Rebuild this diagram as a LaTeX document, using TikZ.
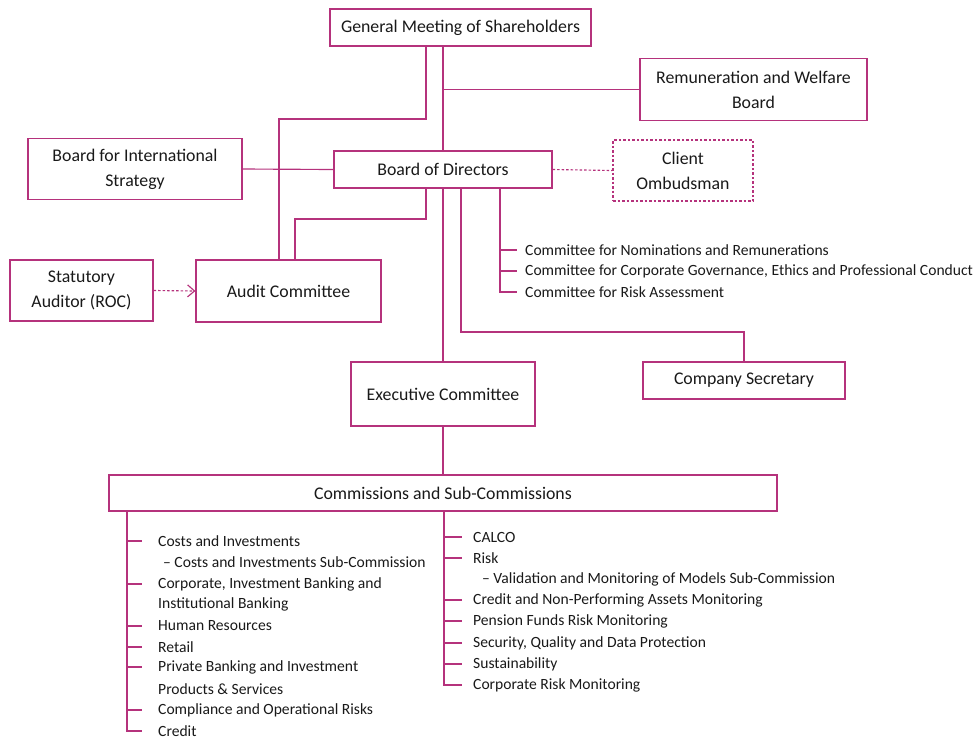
\documentclass[tikz,border=0pt]{standalone}
\usepackage{fontspec}
\setmainfont{Carlito}
\usetikzlibrary{arrows.meta,positioning}
\definecolor{omag}{HTML}{B5327C}
\newcommand{\oboxfont}{\fontsize{17.8}{25}\selectfont}
\newcommand{\olistfont}{\fontsize{15.6}{21}\selectfont}
\tikzset{
  >={Straight Barb[length=7pt,width=12pt]},
  oline/.style={draw=omag, line width=1.15pt},
  odash/.style={oline, dash pattern=on 2.5pt off 2pt},
  obox/.style={draw=omag, line width=1.15pt, align=center, inner sep=2pt,
               font=\oboxfont, text=black!90},
  oboxdash/.style={obox, dash pattern=on 2.5pt off 2pt},
  olbl/.style={anchor=west, inner sep=0pt, font=\olistfont, text=black!90},
}

\begin{document}
\begin{tikzpicture}[x=1pt,y=-1pt]
  \useasboundingbox (0,0) rectangle (975,740);

  % --- governing bodies ---
  \node[obox, minimum width=261pt, minimum height=37pt] (gm) at (460.5,27.5)
    {General Meeting of Shareholders};
  \node[obox, minimum width=227pt, minimum height=62pt] (remb) at (753.5,89.5)
    {Remuneration and Welfare\\Board};
  \node[obox, minimum width=214pt, minimum height=61pt] (bis) at (135,169)
    {Board for International\\Strategy};
  \node[obox, minimum width=218pt, minimum height=37pt] (bod) at (443,169.5)
    {Board of Directors};
  \node[oboxdash, minimum width=140pt, minimum height=61pt] (omb) at (683,170.5)
    {Client\\Ombudsman};
  \node[obox, minimum width=143pt, minimum height=61pt] (stat) at (81.5,290.5)
    {Statutory\\Auditor (ROC)};
  \node[obox, minimum width=185pt, minimum height=62pt] (audit) at (288.5,291)
    {Audit Committee};
  \node[obox, minimum width=184pt, minimum height=64pt] (exec) at (443,394)
    {Executive Committee};
  \node[obox, minimum width=202pt, minimum height=37pt] (csec) at (744,380.5)
    {Company Secretary};
  \node[obox, minimum width=668pt, minimum height=36pt] (comm) at (443,493)
    {Commissions and Sub-Commissions};

  % --- junctions ---
  \coordinate (spine) at (443,0);
  \coordinate (gmleft) at (426,0);
  \coordinate (gmturn) at (279,119);
  \coordinate (bodturn) at (295,219);
  \coordinate (secbus) at (461,0);
  \coordinate (secturn) at (744,332);
  \coordinate (cbus) at (500,0);
  \coordinate (ctick) at (517,0);
  \coordinate (lbus) at (127,0);
  \coordinate (ltick) at (142,0);
  \coordinate (rbus) at (444,0);
  \coordinate (rtick) at (462,0);

  % --- links between bodies ---
  \draw[oline] (gm.south -| gmleft) |- (gmturn) -- (audit.north -| gmturn);
  \draw[oline] (gm.south -| spine) -- (bod.north -| spine);
  \draw[oline] (remb.west) -- (remb.west -| spine);
  \draw[oline] (bis.east) -- (bod.west);
  \draw[odash] (bod.east) -- (omb.west);
  \draw[odash, ->] (stat.east) -- (audit.west);
  \draw[oline] (bod.south -| gmleft) |- (bodturn) -- (audit.north -| bodturn);
  \draw[oline] (bod.south -| spine) -- (exec.north);
  \draw[oline] (bod.south -| secbus) |- (secturn) -- (csec.north);
  \draw[oline] (exec.south) -- (comm.north);

  % --- board committees ---
  \foreach \n/\y/\t in {bc1/250/Committee for Nominations and Remunerations,
      bc2/271/{Committee for Corporate Governance, Ethics and Professional Conduct},
      bc3/292/Committee for Risk Assessment}
    \node[olbl] (\n) at (525,\y) {\t};
  \draw[oline] (bod.south -| cbus) |- (bc3.west -| ctick);
  \foreach \n in {bc1,bc2}
    \draw[oline] (\n.west -| cbus) -- (\n.west -| ctick);

  % --- commissions, left column ---
  \foreach \n/\x/\y/\t in {lc1/158/541/Costs and Investments,
      lc2/163/562/– Costs and Investments Sub-Commission,
      lc3/158/584/{Corporate, Investment Banking and},
      lc4/158/604/Institutional Banking,
      lc5/158/626/Human Resources,
      lc6/158/647/Retail,
      lc7/158/667/Private Banking and Investment,
      lc8/158/689/Products \& Services,
      lc9/158/710/Compliance and Operational Risks,
      lc10/158/731/Credit}
    \node[olbl] (\n) at (\x,\y) {\t};
  \draw[oline] (comm.south -| lbus) |- (lc10.west -| ltick);
  \foreach \n in {lc1,lc3,lc5,lc6,lc7,lc9}
    \draw[oline] (\n.west -| lbus) -- (\n.west -| ltick);

  % --- commissions, right column ---
  \foreach \n/\x/\y/\t in {rc1/473/537/CALCO,
      rc2/473/558/Risk,
      rc3/482/579/– Validation and Monitoring of Models Sub-Commission,
      rc4/473/600/Credit and Non-Performing Assets Monitoring,
      rc5/473/621/Pension Funds Risk Monitoring,
      rc6/473/643/{Security, Quality and Data Protection},
      rc7/473/664/Sustainability,
      rc8/473/685/Corporate Risk Monitoring}
    \node[olbl] (\n) at (\x,\y) {\t};
  \draw[oline] (comm.south -| rbus) |- (rc8.west -| rtick);
  \foreach \n in {rc1,rc2,rc4,rc5,rc6,rc7}
    \draw[oline] (\n.west -| rbus) -- (\n.west -| rtick);

\end{tikzpicture}
\end{document}
